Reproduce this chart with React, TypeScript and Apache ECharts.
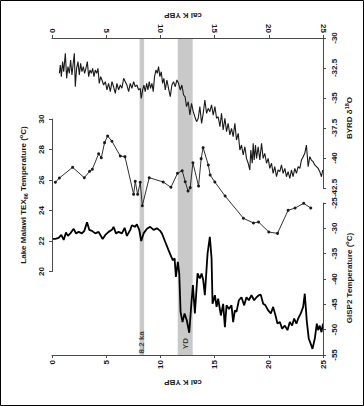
import React, { useEffect, useRef } from "react";
import * as echarts from "echarts";

// ---- data (ages in cal K yr BP) ----
const byrdAge = [0.68,0.77,0.86,0.98,1.08,1.23,1.35,1.47,1.60,1.72,1.84,1.94,2.06,2.15,2.27,2.40,2.52,2.64,2.76,2.89,3.01,3.13,3.26,3.38,3.50,3.63,3.75,3.87,3.99,4.12,4.24,4.36,4.49,4.61,4.76,4.92,5.07,5.22,5.38,5.53,5.68,5.84,5.99,6.14,6.30,6.45,6.61,6.76,6.91,7.07,7.22,7.37,7.53,7.68,7.83,7.99,8.14,8.23,8.36,8.48,8.60,8.73,8.85,8.97,9.09,9.22,9.34,9.46,9.59,9.71,9.83,9.95,10.08,10.20,10.32,10.45,10.60,10.75,10.91,11.06,11.21,11.37,11.52,11.67,11.83,11.98,12.14,12.28,12.41,12.57,12.72,12.87,13.03,13.18,13.34,13.49,13.64,13.80,13.95,14.10,14.26,14.41,14.56,14.72,14.87,15.03,15.18,15.33,15.49,15.64,15.79,15.95,16.10,16.25,16.41,16.56,16.71,16.87,17.02,17.18,17.33,17.48,17.64,17.79,17.94,18.10,18.25,18.34,18.47,18.56,18.65,18.77,18.87,19.02,19.17,19.33,19.48,19.63,19.79,19.94,20.09,20.25,20.40,20.55,20.71,20.86,21.02,21.17,21.32,21.48,21.63,21.78,21.94,22.09,22.24,22.40,22.55,22.71,22.86,23.01,23.17,23.32,23.47,23.63,23.78,23.93,24.09,24.24,24.40,24.55,24.70,24.86,24.97];
const byrdD18O = [-32.94,-32.25,-33.22,-31.97,-32.81,-31.28,-33.36,-32.39,-32.94,-31.83,-33.08,-32.25,-31.28,-34.06,-32.53,-31.97,-33.08,-32.11,-32.81,-32.39,-32.94,-32.53,-31.97,-33.22,-32.67,-32.94,-32.53,-33.22,-32.67,-32.94,-32.53,-33.78,-33.22,-33.50,-33.92,-33.64,-34.33,-33.78,-34.47,-33.64,-34.06,-34.61,-33.78,-34.33,-33.92,-34.19,-33.36,-33.64,-33.92,-34.47,-33.78,-34.19,-33.64,-34.06,-33.92,-34.33,-34.19,-35.03,-34.33,-33.92,-34.47,-33.78,-34.33,-33.64,-34.19,-33.78,-34.47,-33.22,-32.67,-32.94,-32.39,-33.22,-32.81,-33.78,-33.36,-34.33,-33.50,-34.19,-34.89,-33.92,-33.64,-34.06,-33.50,-33.78,-34.33,-33.92,-34.75,-34.90,-35.72,-35.31,-36.42,-35.44,-36.14,-36.56,-36.97,-36.69,-35.72,-37.11,-36.28,-35.17,-36.28,-35.86,-36.14,-35.58,-36.42,-35.72,-36.69,-36.56,-37.39,-36.28,-37.67,-36.69,-37.81,-37.11,-38.08,-37.53,-38.22,-37.11,-38.50,-37.94,-39.33,-38.92,-39.75,-39.06,-40.03,-40.44,-41.00,-39.33,-40.44,-38.78,-40.17,-38.92,-40.03,-39.06,-40.17,-38.78,-40.03,-39.61,-40.44,-40.03,-40.86,-40.44,-41.28,-40.72,-41.56,-41.00,-41.14,-40.58,-41.28,-40.86,-41.56,-41.14,-41.69,-41.00,-41.56,-40.86,-41.28,-40.72,-40.86,-40.17,-39.89,-39.61,-38.92,-40.72,-39.89,-40.17,-40.31,-40.58,-40.72,-40.86,-41.14,-41.56,-41.00];

const texAge = [0.31,0.68,1.90,2.98,3.47,3.72,4.30,4.55,4.85,5.13,5.53,6.30,6.73,7.53,7.68,7.90,8.14,8.33,8.97,10.26,10.97,11.58,12.01,12.29,12.55,12.75,13.00,13.52,13.76,13.94,14.42,14.59,15.02,15.97,17.66,18.58,19.05,20.00,20.80,21.78,22.42,23.22,23.87];
const texTemp = [25.85,26.13,26.83,26.15,26.57,26.70,27.72,27.46,28.45,28.89,28.54,27.57,27.53,25.06,25.91,25.06,25.85,24.31,26.15,25.87,25.52,26.44,26.61,25.89,25.28,25.50,27.13,25.60,27.40,28.12,26.98,26.33,25.87,24.95,23.49,23.18,23.25,22.59,22.50,24.01,24.16,24.47,24.16];

const gispAge = [0,0.31,0.61,0.86,1.08,1.29,1.47,1.69,2.0,2.21,2.46,2.76,2.98,3.23,3.44,3.69,3.99,4.30,4.67,4.92,5.22,5.53,5.68,5.90,6.14,6.45,6.70,6.91,7.22,7.37,7.68,7.83,8.05,8.23,8.45,8.76,9.06,9.37,9.68,9.98,10.14,10.45,10.75,11.0,11.15,11.31,11.43,11.61,11.74,11.86,12.04,12.23,12.44,12.66,12.87,13.0,13.18,13.43,13.64,13.80,13.95,14.10,14.35,14.56,14.72,14.81,15.03,15.18,15.33,15.58,15.79,15.95,16.10,16.32,16.56,16.71,16.87,17.02,17.24,17.48,17.73,17.94,18.16,18.40,18.65,18.87,19.08,19.26,19.48,19.69,19.94,20.19,20.40,20.62,20.80,21.02,21.23,21.48,21.72,21.94,22.15,22.34,22.55,22.71,22.95,23.17,23.32,23.50,23.69,23.87,24.03,24.24,24.43,24.55,24.70,24.86,25.0];
const gispTemp = [-32.1,-32.1,-31.9,-31.3,-32.3,-30.8,-31.5,-31.0,-30.1,-31.0,-30.7,-31.0,-30.5,-28.8,-30.3,-30.5,-31.0,-30.7,-32.1,-31.3,-30.7,-30.3,-29.7,-31.0,-30.7,-31.0,-29.9,-31.5,-30.3,-29.4,-29.7,-29.2,-30.3,-32.5,-31.0,-30.1,-29.7,-30.3,-30.0,-30.5,-31.0,-32.7,-34.3,-35.6,-36.3,-35.9,-39.6,-36.6,-38.9,-46.5,-48.5,-46.8,-48.2,-50.6,-44.5,-41.2,-46.8,-38.9,-39.9,-38.9,-40.2,-43.2,-35.0,-31.7,-35.9,-44.9,-43.2,-45.5,-43.9,-47.2,-44.9,-49.5,-45.2,-45.9,-45.2,-48.5,-46.2,-46.5,-44.2,-43.6,-45.2,-43.6,-44.2,-43.2,-44.2,-43.6,-43.2,-43.1,-44.9,-45.2,-46.2,-46.8,-45.5,-47.2,-48.8,-48.5,-49.8,-49.2,-50.1,-48.5,-49.2,-47.8,-48.8,-47.8,-46.8,-45.5,-42.9,-48.2,-51.8,-52.8,-53.8,-51.8,-48.8,-50.1,-49.2,-50.5,-48.8];

const bandStart = [8.08, 11.6];
const bandEnd = [8.5, 12.98];
const bandLabels = ["8.2 ka", "YD"];

const ageTicks = { min: 0, max: 25, interval: 5 };
const byrdTicks = { min: -42.5, max: -30, interval: 2.5 };
const texTicks = { min: 20, max: 30, interval: 2 };
const gispTicks = { min: -55, max: -25, interval: 5 };

const zip = (a: number[], b: number[]) => {
  const n = Math.min(a.length, b.length);
  const out: number[][] = [];
  for (let i = 0; i < n; i++) out.push([a[i], b[i]]);
  return out;
};

const FONT = "Liberation Sans, Arial, sans-serif";
const INK = "#1a1a1a";
const AXIS = "#4a4a4a";

export default function App() {
  const ref = useRef<HTMLDivElement>(null);
  useEffect(() => {
    if (!ref.current) return;
    const chart = echarts.init(ref.current, undefined, { renderer: "svg" });
    const lbl = { fontSize: 8, fontWeight: "bold", color: INK, fontFamily: FONT, rotate: 90 };
    const line = { show: true, onZero: false, lineStyle: { color: AXIS, width: 1 } };
    const tick = { show: true, length: 3, lineStyle: { color: AXIS, width: 1 } };
    const gl = { left: 52, right: 41 };
    const n = { fontSize: 8, fontWeight: "bold", fontFamily: FONT, fill: INK, lineHeight: 11, verticalAlign: "middle" };
    const sup = { fontSize: 5.5, fontWeight: "bold", fontFamily: FONT, fill: INK, lineHeight: 6, verticalAlign: "top" };
    const sub = { fontSize: 5.5, fontWeight: "bold", fontFamily: FONT, fill: INK, lineHeight: 6, verticalAlign: "bottom" };
    const title = (text: string, x: number, y: number, rot: number) => ({
      type: "text",
      x, y, rotation: rot, silent: true,
      style: { text, rich: { n, sup, sub }, align: "center", verticalAlign: "middle", fill: INK, font: `bold 8px ${FONT}` },
    });
    chart.setOption({
      animation: false,
      backgroundColor: "#fff",
      grid: [
        { ...gl, top: 38, height: 150 },
        { ...gl, top: 119, height: 152.5 },
        { ...gl, top: 203, height: 152 },
        { ...gl, top: 38, height: 317 },
      ],
      xAxis: [
        { gridIndex: 0, type: "value", position: "top", ...ageTicks, axisLine: line, axisTick: tick, axisLabel: { ...lbl, margin: 5 }, splitLine: { show: false }, z: 10 },
        { gridIndex: 1, type: "value", ...ageTicks, show: false },
        { gridIndex: 2, type: "value", position: "bottom", ...ageTicks, axisLine: line, axisTick: tick, axisLabel: { ...lbl, margin: 5 }, splitLine: { show: false }, z: 10 },
        { gridIndex: 3, type: "value", ...ageTicks, show: false },
      ],
      yAxis: [
        { gridIndex: 0, type: "value", position: "right", ...byrdTicks, axisLine: line, axisTick: tick, axisLabel: { ...lbl, margin: 7 }, splitLine: { show: false }, z: 10 },
        { gridIndex: 1, type: "value", position: "left", ...texTicks, axisLine: line, axisTick: tick, axisLabel: { ...lbl, margin: 7 }, splitLine: { show: false }, z: 10 },
        { gridIndex: 2, type: "value", position: "right", ...gispTicks, axisLine: line, axisTick: tick, axisLabel: { ...lbl, margin: 7 }, splitLine: { show: false }, z: 10 },
        { gridIndex: 3, type: "value", min: 0, max: 1, show: false },
      ],
      series: [
        {
          type: "line", xAxisIndex: 3, yAxisIndex: 3, data: [], symbol: "none", silent: true, z: 1,
          markArea: {
            silent: true,
            itemStyle: { color: "#c9c9c9" },
            data: bandStart.map((s, i) => [{ xAxis: s }, { xAxis: bandEnd[i] }]),
          },
        },
        {
          type: "scatter", xAxisIndex: 3, yAxisIndex: 3, silent: true, z: 3,
          symbolSize: 1, itemStyle: { color: "rgba(0,0,0,0)" },
          data: bandStart.map((s, i) => [(s + bandEnd[i]) / 2, i === 0 ? 0.04 : 0.036]),
          label: {
            show: true, position: "inside", rotate: 90, fontSize: 8, fontWeight: "bold", fontFamily: FONT, color: INK,
            formatter: (p: any) => bandLabels[p.dataIndex],
          },
        },
        {
          type: "line", xAxisIndex: 0, yAxisIndex: 0, data: zip(byrdAge, byrdD18O), symbol: "none", z: 4,
          lineStyle: { color: INK, width: 1.1 },
        },
        {
          type: "line", xAxisIndex: 1, yAxisIndex: 1, data: zip(texAge, texTemp), symbol: "circle", symbolSize: 3, z: 4,
          lineStyle: { color: INK, width: 0.9 }, itemStyle: { color: INK },
        },
        {
          type: "line", xAxisIndex: 2, yAxisIndex: 2, data: zip(gispAge, gispTemp), symbol: "none", z: 4,
          lineStyle: { color: "#000", width: 1.8 },
        },
      ],
      graphic: [
        { type: "rect", silent: true, shape: { x: 0.5, y: 0.5, width: 363, height: 405 }, style: { fill: "none", stroke: "#000", lineWidth: 1 } },
        title("{n|cal K YBP}", 183, 15, Math.PI),
        title("{n|cal K YBP}", 183, 382, Math.PI),
        title("{n|Lake Malawi TEX}{sub|86}{n| Temperature (}{sup|o}{n|C)}", 23, 195, Math.PI / 2),
        title("{n|BYRD δ}{sup|18}{n|O}", 349, 118, Math.PI / 2),
        title("{n|GISP2 Temperature (}{sup|o}{n|C)}", 349, 278, Math.PI / 2),
      ],
    });
    return () => chart.dispose();
  }, []);
  return (
    <div style={{ position: "fixed", left: 0, top: 0, width: 364, height: 406, background: "#fff" }}>
      <div ref={ref} style={{ width: 364, height: 406 }} />
    </div>
  );
}
